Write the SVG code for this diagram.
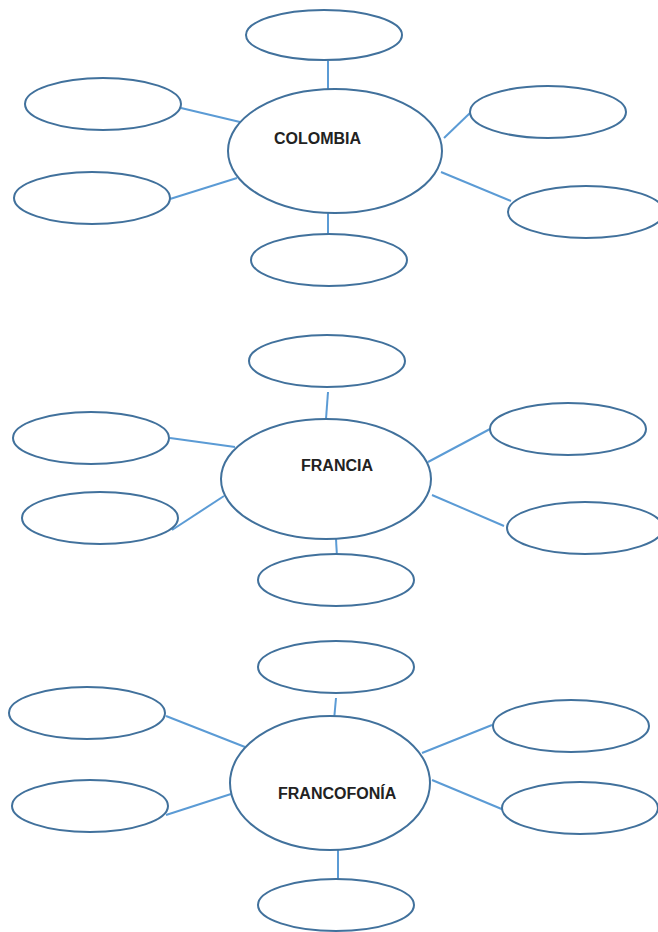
<svg xmlns="http://www.w3.org/2000/svg" width="658" height="932" viewBox="0 0 658 932">
<style>
.n{fill:#fff;stroke:#41719C;stroke-width:2}
.c line{stroke:#5B9BD5;stroke-width:2}
.t{font-family:"Liberation Sans",Arial,sans-serif;font-weight:bold;font-size:16px;fill:#222}
</style>
<rect width="658" height="932" fill="#fff"/>
<g class="c" id="connectors">
<line x1="328" y1="61" x2="328" y2="90"/>
<line x1="181" y1="108" x2="240" y2="122"/>
<line x1="170" y1="199" x2="237" y2="178"/>
<line x1="444" y1="138" x2="470" y2="113"/>
<line x1="441" y1="172" x2="511" y2="201"/>
<line x1="328" y1="213" x2="328" y2="236"/>
<line x1="328" y1="392" x2="326" y2="419"/>
<line x1="170" y1="438" x2="235" y2="447"/>
<line x1="172" y1="530" x2="224" y2="496"/>
<line x1="428" y1="462" x2="490" y2="429"/>
<line x1="432" y1="495" x2="504" y2="526"/>
<line x1="336" y1="539" x2="337" y2="557"/>
<line x1="336" y1="698" x2="334" y2="720"/>
<line x1="166" y1="716" x2="245" y2="747"/>
<line x1="166" y1="815" x2="231" y2="794"/>
<line x1="422" y1="753" x2="492" y2="725"/>
<line x1="432" y1="780" x2="504" y2="810"/>
<line x1="338" y1="845" x2="338" y2="880"/>
</g>
<g id="colombia"><ellipse class="n" cx="335" cy="151" rx="107" ry="62"/><text class="t" x="274" y="144">COLOMBIA</text></g>
<g id="col-top"><ellipse class="n" cx="324" cy="35" rx="78" ry="25"/></g>
<g id="col-lt"><ellipse class="n" cx="103" cy="104" rx="78" ry="26"/></g>
<g id="col-lb"><ellipse class="n" cx="92" cy="198" rx="78" ry="26"/></g>
<g id="col-rt"><ellipse class="n" cx="548" cy="112" rx="78" ry="26"/></g>
<g id="col-rb"><ellipse class="n" cx="586" cy="212" rx="78" ry="26"/></g>
<g id="col-bot"><ellipse class="n" cx="329" cy="260" rx="78" ry="26"/></g>
<g id="francia"><ellipse class="n" cx="326" cy="479" rx="105" ry="60"/><text class="t" x="301" y="471">FRANCIA</text></g>
<g id="fr-top"><ellipse class="n" cx="327" cy="361" rx="78" ry="26"/></g>
<g id="fr-lt"><ellipse class="n" cx="91" cy="438" rx="78" ry="26"/></g>
<g id="fr-lb"><ellipse class="n" cx="100" cy="518" rx="78" ry="26"/></g>
<g id="fr-rt"><ellipse class="n" cx="568" cy="429" rx="78" ry="26"/></g>
<g id="fr-rb"><ellipse class="n" cx="585" cy="528" rx="78" ry="26"/></g>
<g id="fr-bot"><ellipse class="n" cx="336" cy="580" rx="78" ry="26"/></g>
<g id="francofonia"><ellipse class="n" cx="330" cy="783" rx="100" ry="67"/><text class="t" x="278" y="799">FRANCOFONÍA</text></g>
<g id="ff-top"><ellipse class="n" cx="336" cy="667" rx="78" ry="26"/></g>
<g id="ff-lt"><ellipse class="n" cx="87" cy="713" rx="78" ry="26"/></g>
<g id="ff-lb"><ellipse class="n" cx="90" cy="806" rx="78" ry="26"/></g>
<g id="ff-rt"><ellipse class="n" cx="571" cy="726" rx="78" ry="26"/></g>
<g id="ff-rb"><ellipse class="n" cx="580" cy="808" rx="78" ry="26"/></g>
<g id="ff-bot"><ellipse class="n" cx="336" cy="905" rx="78" ry="26"/></g>
</svg>
